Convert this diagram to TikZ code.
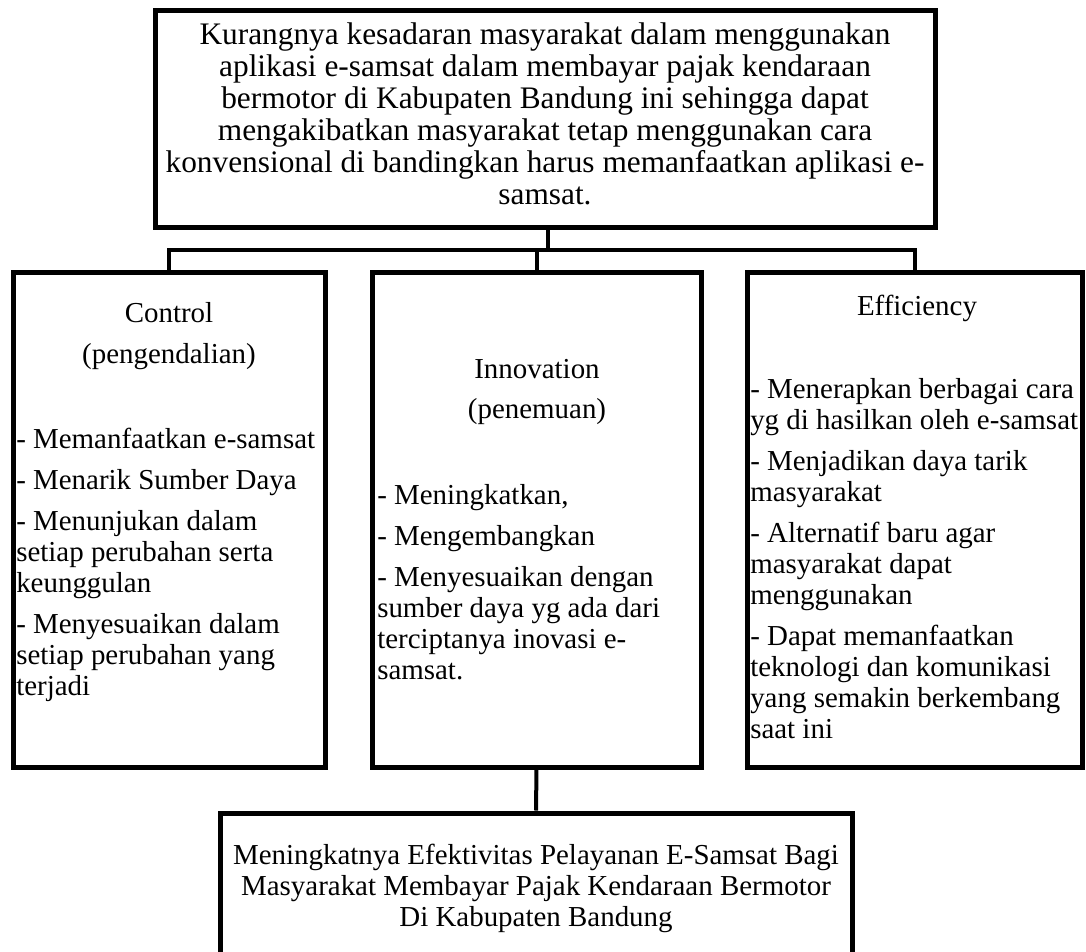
\documentclass[tikz,border=0pt]{standalone}
\usepackage{fontspec}
\setmainfont{Liberation Serif}
\begin{document}
\begin{tikzpicture}[x=0.75pt,y=-0.75pt,
  box/.style={draw, line width=3.75pt, inner sep=0pt, rectangle},
  conn/.style={line width=3pt},
  big/.style={font=\fontsize{23.5}{24}\selectfont, inner sep=0pt},
  txt/.style={font=\fontsize{21.7}{23}\selectfont, inner sep=0pt},
  cl/.style={txt, anchor=base},
  ll/.style={txt, anchor=base west}]
\useasboundingbox (0,0) rectangle (1086,951);
\clip (0,0) rectangle (1086,951);
% boxes
\node[box, minimum width=585pt, minimum height=162.75pt] (top) at (545,118.5) {};
\node[box, minimum width=234pt, minimum height=371.25pt] (ctl) at (169,519.5) {};
\node[box, minimum width=246.75pt, minimum height=371.25pt] (inn) at (536.5,519.5) {};
\node[box, minimum width=251.25pt, minimum height=371.25pt] (eff) at (914.5,519.5) {};
\node[box, minimum width=474pt, minimum height=150pt] (res) at (536,913) {};
% connectors
\coordinate (bus) at (548,250);
\draw[conn] (top.south -| bus) -- (bus);
\draw[conn] (ctl.north) -- (ctl.north |- bus) -- (eff.north |- bus) -- (eff.north);
\draw[conn] (inn.north) -- (inn.north |- bus);
\draw[conn] (inn.south) -- (res.north);
% top text
\node[big, anchor=base] (t1) at (545,44) {Kurangnya kesadaran masyarakat dalam menggunakan};
\node[big, anchor=base] (t2) at (545,76) {aplikasi e-samsat dalam membayar pajak kendaraan};
\node[big, anchor=base] (t3) at (545,108) {bermotor di Kabupaten Bandung ini sehingga dapat};
\node[big, anchor=base] (t4) at (545,140) {mengakibatkan masyarakat tetap menggunakan cara};
\node[big, anchor=base] (t5) at (545,172) {konvensional di bandingkan harus memanfaatkan aplikasi e-};
\node[big, anchor=base] (t6) at (545,204) {samsat.};
% control
\node[cl] (c0) at (169,322) {Control};
\node[cl] (c00) at (169,363) {(pengendalian)};
\node[ll] (c1) at (16,448) {- Memanfaatkan e-samsat};
\node[ll] (c2) at (16,489) {- Menarik Sumber Daya};
\node[ll] (c3) at (16,530) {- Menunjukan dalam};
\node[ll] (c4) at (16,561) {setiap perubahan serta};
\node[ll] (c5) at (16,592) {keunggulan};
\node[ll] (c6) at (16,633) {- Menyesuaikan dalam};
\node[ll] (c7) at (16,664) {setiap perubahan yang};
\node[ll] (c8) at (16,695) {terjadi};
% innovation
\node[cl] (i0) at (537,378) {Innovation};
\node[cl] (i00) at (537,418) {(penemuan)};
\node[ll] (i1) at (377,504) {- Meningkatkan,};
\node[ll] (i2) at (377,545) {- Mengembangkan};
\node[ll] (i3) at (377,586) {- Menyesuaikan dengan};
\node[ll] (i4) at (377,617) {sumber daya yg ada dari};
\node[ll] (i5) at (377,648) {terciptanya inovasi e-};
\node[ll] (i6) at (377,679) {samsat.};
% efficiency
\node[cl] (e0) at (917,315) {Efficiency};
\node[ll] (e1) at (750,398) {- Menerapkan berbagai cara};
\node[ll] (e2) at (750,429) {yg di hasilkan oleh e-samsat};
\node[ll] (e3) at (750,470) {- Menjadikan daya tarik};
\node[ll] (e4) at (750,501) {masyarakat};
\node[ll] (e5) at (750,542) {- Alternatif baru agar};
\node[ll] (e6) at (750,573) {masyarakat dapat};
\node[ll] (e7) at (750,604) {menggunakan};
\node[ll] (e8) at (750,645) {- Dapat memanfaatkan};
\node[ll] (e9) at (750,676) {teknologi dan komunikasi};
\node[ll] (e10) at (750,707) {yang semakin berkembang};
\node[ll] (e11) at (750,738) {saat ini};
% result
\node[cl] (r1) at (536,864) {Meningkatnya Efektivitas Pelayanan E-Samsat Bagi};
\node[cl] (r2) at (536,895) {Masyarakat Membayar Pajak Kendaraan Bermotor};
\node[cl] (r3) at (536,926) {Di Kabupaten Bandung};
\end{tikzpicture}
\end{document}
